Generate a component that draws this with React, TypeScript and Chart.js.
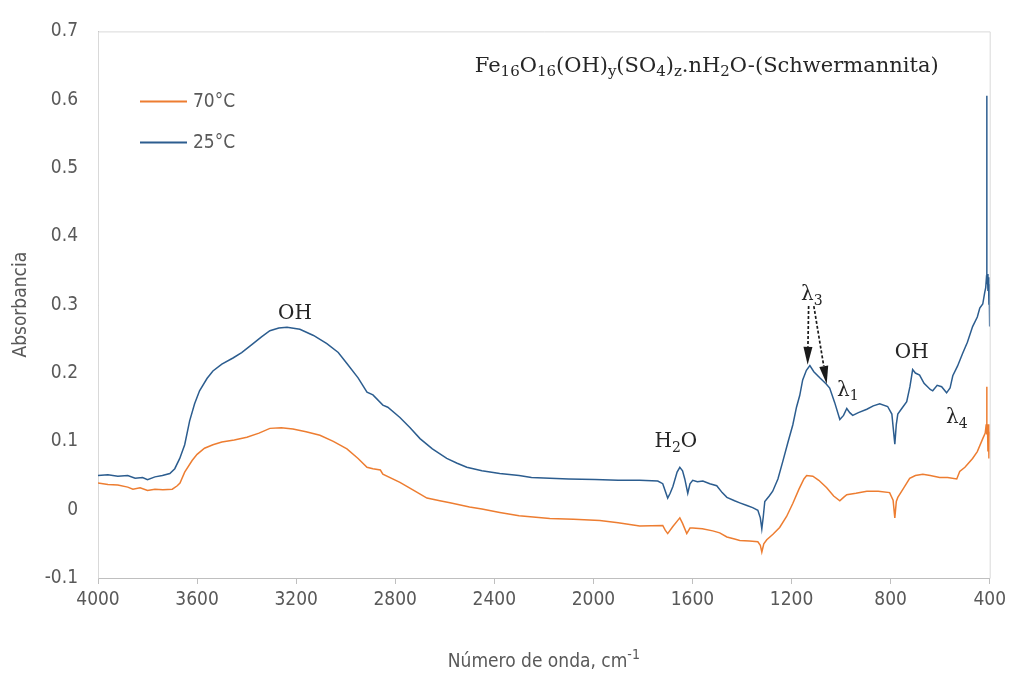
import React, { useEffect, useRef } from 'react';
import { Chart, registerables } from 'chart.js';

Chart.register(...registerables);

// FTIR spectrum of schwermannite, sample dried at 25 °C
const wavenumbers25 = [
  4000, 3960, 3920, 3880, 3850, 3820, 3800, 3770, 3740, 3710, 3690, 3670, 3650, 3630, 3610, 3590,
  3560, 3536, 3500, 3455, 3420, 3374, 3340, 3306, 3270, 3237, 3185, 3130, 3076, 3030, 2995, 2950,
  2914, 2890, 2850, 2830, 2781, 2740, 2700, 2650, 2592, 2550, 2511, 2450, 2378, 2300, 2250, 2176,
  2100, 1994, 1900, 1813, 1740, 1720, 1700, 1690, 1679, 1662, 1651, 1640, 1631, 1619, 1610, 1599,
  1580, 1558, 1530, 1502, 1480, 1461, 1430, 1409, 1380, 1357, 1336, 1326, 1320, 1314, 1308, 1290,
  1276, 1255, 1235, 1215, 1195, 1180, 1167, 1155, 1140, 1126, 1110, 1086, 1060, 1046, 1026, 1005,
  990, 977, 965, 953, 930, 896, 870, 844, 812, 795, 789, 783, 777, 771, 755, 735,
  722, 711, 700, 683, 665, 654, 640, 630, 612, 594, 574, 560, 549, 530, 509, 490,
  469, 450, 440, 428, 420, 416, 414, 412, 411, 409, 407, 405, 403, 402, 400,
];
const absorbance25 = [
  0.050, 0.051, 0.049, 0.050, 0.046, 0.047, 0.044, 0.048, 0.050, 0.053, 0.060, 0.075, 0.095, 0.130, 0.155, 0.174,
  0.192, 0.203, 0.213, 0.222, 0.230, 0.243, 0.253, 0.262, 0.266, 0.267, 0.264, 0.255, 0.243, 0.230, 0.214, 0.193,
  0.172, 0.168, 0.153, 0.150, 0.135, 0.120, 0.104, 0.089, 0.075, 0.068, 0.062, 0.057, 0.053, 0.050, 0.047, 0.046,
  0.045, 0.044, 0.043, 0.043, 0.042, 0.038, 0.017, 0.024, 0.034, 0.055, 0.062, 0.057, 0.045, 0.024, 0.038, 0.043,
  0.041, 0.042, 0.038, 0.035, 0.025, 0.018, 0.013, 0.010, 0.006, 0.003, -0.001, -0.012, -0.028, -0.010, 0.012, 0.020,
  0.027, 0.045, 0.071, 0.098, 0.124, 0.150, 0.167, 0.190, 0.204, 0.211, 0.202, 0.193, 0.184, 0.178, 0.157, 0.132,
  0.138, 0.148, 0.142, 0.138, 0.142, 0.147, 0.152, 0.155, 0.151, 0.140, 0.118, 0.096, 0.125, 0.140, 0.148, 0.158,
  0.180, 0.205, 0.200, 0.197, 0.185, 0.181, 0.176, 0.174, 0.182, 0.180, 0.171, 0.178, 0.196, 0.210, 0.229, 0.245,
  0.268, 0.282, 0.295, 0.301, 0.318, 0.325, 0.335, 0.606, 0.330, 0.345, 0.320, 0.340, 0.300, 0.330, 0.268,
];

// Same mineral, dried at 70 °C
const wavenumbers70 = [
  4000, 3960, 3920, 3880, 3859, 3830, 3800, 3770, 3738, 3700, 3680, 3669, 3650, 3620, 3600, 3570,
  3536, 3500, 3450, 3399, 3350, 3306, 3260, 3213, 3160, 3104, 3050, 2995, 2950, 2914, 2890, 2860,
  2850, 2781, 2720, 2672, 2620, 2579, 2500, 2450, 2378, 2300, 2176, 2080, 1974, 1900, 1813, 1720,
  1710, 1700, 1680, 1660, 1651, 1640, 1623, 1610, 1599, 1560, 1518, 1490, 1461, 1430, 1409, 1370,
  1336, 1326, 1320, 1312, 1300, 1275, 1248, 1220, 1195, 1170, 1150, 1139, 1114, 1090, 1058, 1030,
  1005, 990, 977, 940, 896, 850, 804, 790, 783, 777, 771, 750, 723, 700, 670, 640,
  602, 570, 533, 521, 500, 469, 450, 428, 418, 414, 412, 411, 409, 407, 405, 403,
  402, 400,
];
const absorbance70 = [
  0.039, 0.037, 0.036, 0.033, 0.030, 0.032, 0.028, 0.030, 0.029, 0.030, 0.035, 0.039, 0.055, 0.072, 0.081, 0.090,
  0.095, 0.099, 0.102, 0.106, 0.112, 0.119, 0.120, 0.118, 0.114, 0.109, 0.100, 0.089, 0.075, 0.062, 0.060, 0.058,
  0.052, 0.040, 0.027, 0.017, 0.013, 0.010, 0.004, 0.001, -0.004, -0.009, -0.013, -0.014, -0.016, -0.019, -0.024, -0.023,
  -0.030, -0.035, -0.025, -0.016, -0.012, -0.020, -0.035, -0.027, -0.027, -0.028, -0.031, -0.034, -0.040, -0.043, -0.045, -0.046,
  -0.047, -0.052, -0.062, -0.050, -0.044, -0.036, -0.026, -0.010, 0.009, 0.030, 0.045, 0.050, 0.049, 0.043, 0.032, 0.020,
  0.013, 0.018, 0.022, 0.024, 0.027, 0.027, 0.025, 0.014, -0.012, 0.012, 0.018, 0.030, 0.046, 0.050, 0.052, 0.050,
  0.047, 0.047, 0.045, 0.056, 0.062, 0.075, 0.085, 0.104, 0.112, 0.125, 0.180, 0.110, 0.125, 0.085, 0.125, 0.075,
  0.110, 0.114,
];

const seriesNames = ['70°C', '25°C'];
const seriesColors = ['#ED7D31', '#2C5D8F'];

const xMin = 400;
const xMax = 4000;
const xStep = 400;
const yMin = -0.1;
const yMax = 0.7;
const yStep = 0.1;

const SANS = '"Liberation Sans Narrow", "DejaVu Sans Condensed", "Liberation Sans", sans-serif';
const SERIF = '"DejaVu Serif", "Liberation Serif", serif';
const AXIS_GRAY = '#595959';
const FRAME_GRAY = '#D9D9D9';
const INK = '#262626';

type Seg = { t: string; sub?: boolean; sup?: boolean };

// Band assignments placed in data coordinates (wavenumber, absorbance)
const bandLabels: { segs: Seg[]; wn: number; a: number; align: 'left' | 'center'; size: number }[] = [
  { segs: [{ t: 'OH' }], wn: 3205, a: 0.286, align: 'center', size: 20 },
  { segs: [{ t: 'H' }, { t: '2', sub: true }, { t: 'O' }], wn: 1667, a: 0.099, align: 'center', size: 20 },
  { segs: [{ t: 'λ' }, { t: '3', sub: true }], wn: 1118, a: 0.314, align: 'center', size: 20 },
  { segs: [{ t: 'λ' }, { t: '1', sub: true }], wn: 973, a: 0.174, align: 'center', size: 20 },
  { segs: [{ t: 'OH' }], wn: 715, a: 0.230, align: 'center', size: 20 },
  { segs: [{ t: 'λ' }, { t: '4', sub: true }], wn: 533, a: 0.134, align: 'center', size: 20 },
  {
    segs: [
      { t: 'Fe' }, { t: '16', sub: true }, { t: 'O' }, { t: '16', sub: true }, { t: '(OH)' },
      { t: 'y', sub: true }, { t: '(SO' }, { t: '4', sub: true }, { t: ')' }, { t: 'z', sub: true },
      { t: '.nH' }, { t: '2', sub: true }, { t: 'O-(Schwermannita)' },
    ],
    wn: 2479,
    a: 0.649,
    align: 'left',
    size: 21,
  },
];

// Dashed arrows from the λ3 label to the two ν3 sulfate maxima
const bandArrows = [
  { fromWn: 1131, fromA: 0.298, toWn: 1135, toA: 0.212 },
  { fromWn: 1110, fromA: 0.298, toWn: 1058, toA: 0.184 },
];

function drawRich(
  ctx: CanvasRenderingContext2D,
  segs: Seg[],
  x: number,
  y: number,
  size: number,
  family: string,
  color: string,
  align: 'left' | 'center'
) {
  const subSize = Math.round(size * 0.72);
  let total = 0;
  for (const s of segs) {
    ctx.font = `${s.sub || s.sup ? subSize : size}px ${family}`;
    total += ctx.measureText(s.t).width;
  }
  let cx = align === 'center' ? x - total / 2 : x;
  ctx.fillStyle = color;
  ctx.textBaseline = 'middle';
  ctx.textAlign = 'left';
  for (const s of segs) {
    const small = s.sub || s.sup;
    ctx.font = `${small ? subSize : size}px ${family}`;
    const dy = s.sub ? size * 0.3 : s.sup ? -size * 0.33 : 0;
    ctx.fillText(s.t, cx, y + dy);
    cx += ctx.measureText(s.t).width;
  }
}

function drawArrow(ctx: CanvasRenderingContext2D, x1: number, y1: number, x2: number, y2: number) {
  const ang = Math.atan2(y2 - y1, x2 - x1);
  const headLen = 18;
  const headHalf = 4.5;
  const bx = x2 - Math.cos(ang) * headLen;
  const by = y2 - Math.sin(ang) * headLen;
  ctx.save();
  ctx.strokeStyle = '#1A1A1A';
  ctx.fillStyle = '#1A1A1A';
  ctx.lineWidth = 1.7;
  ctx.setLineDash([3, 2]);
  ctx.beginPath();
  ctx.moveTo(x1, y1);
  ctx.lineTo(bx, by);
  ctx.stroke();
  ctx.setLineDash([]);
  ctx.beginPath();
  ctx.moveTo(x2, y2);
  ctx.lineTo(bx + Math.sin(ang) * headHalf, by - Math.cos(ang) * headHalf);
  ctx.lineTo(bx - Math.sin(ang) * headHalf, by + Math.cos(ang) * headHalf);
  ctx.closePath();
  ctx.fill();
  ctx.restore();
}

const decorations = {
  id: 'spectrumDecorations',
  beforeDatasetsDraw(chart: any) {
    const { ctx, chartArea } = chart;
    const { left, right, top, bottom } = chartArea;
    ctx.save();
    ctx.strokeStyle = FRAME_GRAY;
    ctx.lineWidth = 1;
    ctx.beginPath();
    ctx.moveTo(left + 0.5, bottom + 0.5);
    ctx.lineTo(left + 0.5, top + 0.5);
    ctx.lineTo(right + 0.5, top + 0.5);
    ctx.lineTo(right + 0.5, bottom + 0.5);
    ctx.stroke();
    ctx.restore();
  },
  afterDatasetsDraw(chart: any) {
    const { ctx, chartArea, scales } = chart;
    const xs = scales.x;
    const ys = scales.y;
    ctx.save();

    // legend
    const lx = chartArea.left + 42;
    const rows = [chartArea.top + 70, chartArea.top + 111];
    seriesNames.forEach((name, i) => {
      ctx.strokeStyle = seriesColors[i];
      ctx.lineWidth = 2;
      ctx.beginPath();
      ctx.moveTo(lx, rows[i]);
      ctx.lineTo(lx + 47, rows[i]);
      ctx.stroke();
      ctx.fillStyle = AXIS_GRAY;
      ctx.font = `19px ${SANS}`;
      ctx.textBaseline = 'middle';
      ctx.textAlign = 'left';
      ctx.fillText(name, lx + 53, rows[i] + 1);
    });

    // band labels and title formula
    for (const b of bandLabels) {
      drawRich(ctx, b.segs, xs.getPixelForValue(b.wn), ys.getPixelForValue(b.a), b.size, SERIF, INK, b.align);
    }
    for (const a of bandArrows) {
      drawArrow(
        ctx,
        xs.getPixelForValue(a.fromWn),
        ys.getPixelForValue(a.fromA),
        xs.getPixelForValue(a.toWn),
        ys.getPixelForValue(a.toA)
      );
    }

    // x-axis title with superscript
    drawRich(
      ctx,
      [{ t: 'Número de onda, cm' }, { t: '-1', sup: true }],
      (chartArea.left + chartArea.right) / 2,
      662,
      19,
      SANS,
      AXIS_GRAY,
      'center'
    );
    ctx.restore();
  },
};

export default function App() {
  const canvasRef = useRef<HTMLCanvasElement | null>(null);

  useEffect(() => {
    const canvas = canvasRef.current;
    if (!canvas) return;
    const chart = new Chart(canvas, {
      type: 'line',
      data: {
        datasets: [
          {
            label: seriesNames[0],
            data: wavenumbers70.map((x, i) => ({ x, y: absorbance70[i] })),
            borderColor: seriesColors[0],
            borderWidth: 1.5,
            pointRadius: 0,
            tension: 0,
          },
          {
            label: seriesNames[1],
            data: wavenumbers25.map((x, i) => ({ x, y: absorbance25[i] })),
            borderColor: seriesColors[1],
            borderWidth: 1.5,
            pointRadius: 0,
            tension: 0,
          },
        ],
      },
      options: {
        responsive: false,
        animation: false,
        devicePixelRatio: 1,
        layout: { padding: { left: 0, right: 21, top: 22, bottom: 0 } },
        plugins: {
          legend: { display: false },
          tooltip: { enabled: false },
        },
        scales: {
          x: {
            type: 'linear',
            reverse: true,
            min: xMin,
            max: xMax,
            afterFit: (s: any) => {
              s.height = 97;
            },
            ticks: {
              stepSize: xStep,
              color: AXIS_GRAY,
              font: { family: SANS, size: 19 },
              padding: 5,
              maxRotation: 0,
              autoSkip: false,
              callback: (v: any) => String(v),
            },
            grid: {
              drawOnChartArea: false,
              drawTicks: true,
              tickLength: 6,
              color: '#BFBFBF',
            },
            border: { display: true, color: '#BFBFBF' },
          },
          y: {
            min: yMin,
            max: yMax,
            afterFit: (s: any) => {
              s.width = 98;
            },
            ticks: {
              stepSize: yStep,
              color: AXIS_GRAY,
              font: { family: SANS, size: 19 },
              padding: 20,
              callback: (v: any) => String(Number(Number(v).toFixed(1))),
            },
            grid: { display: false, drawTicks: false },
            border: { display: true, color: '#BFBFBF' },
            title: {
              display: true,
              text: 'Absorbancia',
              color: AXIS_GRAY,
              font: { family: SANS, size: 19 },
              padding: { top: 10, bottom: 0 },
            },
          },
        },
      },
      plugins: [decorations],
    });
    return () => chart.destroy();
  }, []);

  return (
    <div style={{ position: 'absolute', left: 0, top: 0, width: 1011, height: 675, background: '#fff' }}>
      <canvas ref={canvasRef} width={1011} height={675} />
    </div>
  );
}
